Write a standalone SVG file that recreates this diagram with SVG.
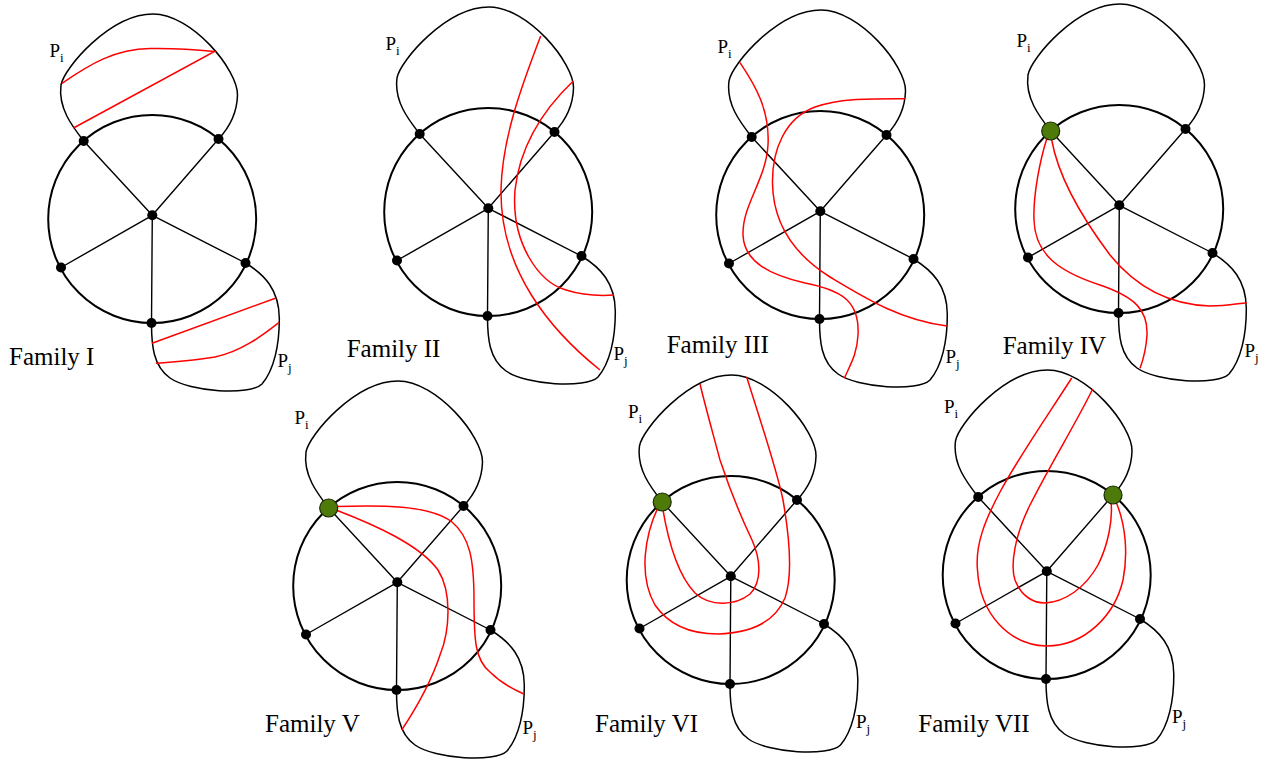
<svg xmlns="http://www.w3.org/2000/svg" width="1270" height="762" viewBox="0 0 1270 762">
<style>
.ring{fill:none;stroke:#000;stroke-width:2}
.spoke{stroke:#000;stroke-width:1.4;fill:none}
.blob{fill:none;stroke:#000;stroke-width:1.5}
.red{fill:none;stroke:#f00;stroke-width:1.5}
.dot{fill:#000}
.green{fill:#4e7a0a;stroke:#1b2a05;stroke-width:1.2}
text{font-family:"Liberation Serif","Times New Roman",serif;fill:#000}
.fam{font-size:25px}
</style>
<defs>
<g id="base">
<path class="blob" d="M83.7,141 C72,126 58,108 61,85 C64,68 110,14 153,14 C192,14 238,70 237.5,95 C237,115 227,130 218.5,139"/>
<path class="blob" d="M245.5,263 C265,275 279,290 279.3,318 C279.5,345 274,370 262,384 C250,396 190,392 170,378 C153,366 151.5,345 151.5,323"/>
<circle class="ring" cx="152.2" cy="219" r="104"/>
<path class="spoke" d="M152.3,215.3 L83.7,141 M152.3,215.3 L218.5,139 M152.3,215.3 L61,267.5 M152.3,215.3 L245.5,263 M152.3,215.3 L151.5,323"/>
<circle class="dot" cx="152.3" cy="215.3" r="5"/>
<circle class="dot" cx="83.7" cy="141" r="5"/>
<circle class="dot" cx="218.5" cy="139" r="5"/>
<circle class="dot" cx="61" cy="267.5" r="5"/>
<circle class="dot" cx="245.5" cy="263" r="5"/>
<circle class="dot" cx="151.5" cy="323" r="5"/>
<text x="49.5" y="57" font-family="Liberation Serif, Times New Roman, serif" font-size="19">P<tspan font-size="13" dy="5">i</tspan></text>
<text x="277.5" y="367" font-family="Liberation Serif, Times New Roman, serif" font-size="19">P<tspan font-size="13" dy="5">j</tspan></text>
</g>
</defs>

<g id="family1">
<use href="#base"/>
<g class="connectors">
<path class="red" d="M62,83.3 C90,64 115,49 150,48.5 C180,48 200,50 214.5,51.5 L73.5,128"/>
<path class="red" d="M276,298 L152,343.3"/>
<path class="red" d="M278.8,322.7 C262,336 240,352 215,357 C190,361 170,362 156,363.3"/>
</g>
<text class="fam" x="9" y="365">Family I</text>
</g>

<g id="family2">
<use href="#base" transform="translate(336,-7)"/>
<g class="connectors">
<path class="red" d="M540.7,36 C520,90 502,140 501,190 C500,270 550,330 600,370"/>
<path class="red" d="M573.3,81 C545,108 520,145 515,190 C511,242 538,282 566,290 C585,296 600,296 614,295"/>
</g>
<text class="fam" x="346.7" y="357">Family II</text>
</g>

<g id="family3">
<use href="#base" transform="translate(668,-4)"/>
<g class="connectors">
<path class="red" d="M740,62.7 C755,85 770,110 768,145 C766,180 742,205 743,235 C744,262 770,275 805,283 C840,290 860,300 858,335 C857,355 850,365 844.3,378.3"/>
<path class="red" d="M905,98.7 C870,98.7 840,98 815,107 C785,118 772,150 772.5,183 C773,225 795,255 830,277 C865,298 900,320 947,326"/>
</g>
<text class="fam" x="666.7" y="353">Family III</text>
</g>

<g id="family4">
<use href="#base" transform="translate(967,-10)"/>
<g class="connectors">
<path class="red" d="M1047,138 C1040,160 1033,195 1034,220 C1035,255 1060,272 1100,285 C1135,297 1148,310 1147,335 C1146,352 1143,360 1140,368.3"/>
<path class="red" d="M1051.7,140 C1058,175 1080,215 1110,255 C1140,292 1175,305 1210,306 C1225,306 1235,304 1246.7,302.7"/>
</g>
<circle class="green" cx="1050.7" cy="131" r="9"/>
<text class="fam" x="1002.7" y="353.5">Family IV</text>
</g>

<g id="family5">
<use href="#base" transform="translate(245,367)"/>
<g class="connectors">
<path class="red" d="M336,506.5 C380,505 430,505 452,522 C470,537 474,560 474,600 C474,640 475,660 490,672 C500,682 512,689 523.8,694"/>
<path class="red" d="M336,510 C375,525 420,545 438,570 C452,592 450,630 440,655 C430,685 415,710 401.7,730"/>
</g>
<circle class="green" cx="328.7" cy="508" r="9"/>
<text class="fam" x="265" y="732">Family V</text>
</g>

<g id="family6">
<use href="#base" transform="translate(578.5,361)"/>
<g class="connectors">
<path class="red" d="M658.3,506.7 C645,535 638,575 655,605 C670,627 695,634 718,634 C750,633 775,622 785,598 C793,575 790,540 783,500 C777,470 760,420 746.7,377"/>
<path class="red" d="M662.7,508.3 C668,540 678,575 695,593 C710,607 735,606 750,594 C762,582 761,560 752,540 C740,515 730,490 720,460 C712,430 705,405 700,384"/>
</g>
<circle class="green" cx="662.2" cy="502" r="9"/>
<text class="fam" x="595" y="732">Family VI</text>
</g>

<g id="family7">
<use href="#base" transform="translate(894.5,356)"/>
<g class="connectors">
<path class="red" d="M1071.7,378 C1050,412 1020,455 1000,492 C985,520 975,545 977.5,570 C980,615 1010,645 1046.5,646 C1085,646 1115,615 1123,580 C1128,555 1126,525 1116,502"/>
<path class="red" d="M1092.7,389 C1075,425 1050,465 1030,505 C1015,535 1010,565 1015,580 C1022,598 1035,603 1045,603 C1065,602 1085,588 1098,565 C1108,545 1113,520 1111,502"/>
</g>
<circle class="green" cx="1113" cy="495" r="9"/>
<text class="fam" x="918.3" y="732">Family VII</text>
</g>
</svg>
